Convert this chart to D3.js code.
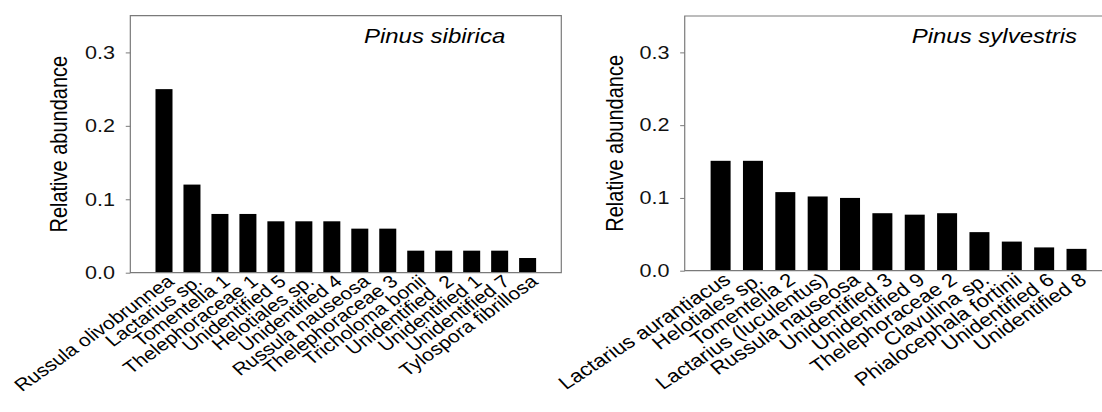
<!DOCTYPE html>
<html><head><meta charset="utf-8">
<script src="https://cdn.jsdelivr.net/npm/d3@7"></script>
<style>
body{margin:0;background:#fff;}
text{font-family:"Liberation Sans",Arial,sans-serif;}
</style>
</head><body>
<svg id="c" width="1102" height="412"></svg>
<script>
const sibiricaCategories = ["Russula olivobrunnea","Lactarius sp.","Tomentella 1","Thelephoraceae 1","Unidentified 5","Helotiales sp.","Unidentified 4","Russula nauseosa","Thelephoraceae 3","Tricholoma bonii","Unidentified  2","Unidentified 1","Unidentified 7","Tylospora fibrillosa"];
const sibiricaValues = [0.25,0.12,0.08,0.08,0.07,0.07,0.07,0.06,0.06,0.03,0.03,0.03,0.03,0.02];
const sylvestrisCategories = ["Lactarius aurantiacus","Helotiales sp.","Tomentella 2","Lactarius (luculentus)","Russula nauseosa","Unidentified 3","Unidentified 9","Thelephoraceae 2","Clavulina sp.","Phialocephala fortinii","Unidentified 6","Unidentified 8"];
const sylvestrisValues = [0.151,0.151,0.108,0.102,0.100,0.079,0.077,0.079,0.053,0.040,0.032,0.030];
const yTickValues = [0.0,0.1,0.2,0.3];
const panelTitles = ["Pinus sibirica","Pinus sylvestris"];
const yAxisLabel = "Relative abundance";

const SX = 1.2;
const svg = d3.select("#c");
const root = svg.append("g").attr("transform", `scale(${SX},1)`);
const GRAY = "#7a7a7a";

function panel(cfg){
  const g = root.append("g");
  const x = d3.scaleBand().domain(cfg.cats).range([cfg.x0, cfg.x1]).paddingInner(cfg.pi).paddingOuter(cfg.po);
  const y = d3.scaleLinear().domain([0,0.35]).range([cfg.y1, cfg.y0]);
  const data = cfg.cats.map((c,i)=>({c, v: cfg.vals[i]}));
  g.selectAll("rect.bar").data(data).join("rect").attr("class","bar")
    .attr("x", d=>x(d.c)).attr("width", x.bandwidth())
    .attr("y", d=>y(d.v)).attr("height", d=>y(0)-y(d.v)).attr("fill","#000");
  g.append("rect").attr("x",cfg.x0).attr("y",cfg.y0).attr("width",cfg.x1-cfg.x0).attr("height",cfg.y1-cfg.y0)
    .attr("fill","none").attr("stroke",GRAY).attr("stroke-width",1.2).attr("vector-effect","non-scaling-stroke");
  const ax = d3.axisLeft(y).tickValues(yTickValues).tickFormat(d3.format(".1f")).tickSize(3.8).tickPadding(8.9);
  const ag = g.append("g").attr("transform",`translate(${cfg.x0},0)`).call(ax);
  ag.attr("font-size",null).attr("font-family",null);
  ag.select(".domain").remove();
  ag.selectAll(".tick line").attr("stroke",GRAY).attr("vector-effect","non-scaling-stroke");
  ag.selectAll(".tick text").attr("font-size",18).attr("fill","#111");
  g.selectAll("text.cat").data(cfg.cats).join("text").attr("class","cat")
    .attr("transform", d=>`translate(${x(d)+x.bandwidth()/2+1.5},${cfg.y1+1}) rotate(${-cfg.angle})`)
    .attr("text-anchor","end").attr("dy","0.71em").attr("font-size",cfg.catSize).attr("fill","#000")
    .attr("xml:space","preserve").style("white-space","pre")
    .text(d=>d);
  g.append("text").attr("transform",`translate(${cfg.ylabX},${(cfg.y0+cfg.y1)/2}) rotate(-90)`)
    .attr("text-anchor","middle").attr("font-size",20).attr("fill","#000").text(yAxisLabel);
  g.append("text").attr("x",cfg.titleX).attr("y",cfg.titleY).attr("font-size",20)
    .attr("font-style","italic").attr("fill","#000").text(cfg.title);
}

panel({cats:sibiricaCategories, vals:sibiricaValues, x0:108.6, x1:467.75, y0:15.7, y1:272.7, pi:0.392, po:0.90,
  ylabX:56.1, titleX:303.3, titleY:43, title:panelTitles[0], angle:40.5, catSize:17.5});
panel({cats:sylvestrisCategories, vals:sylvestrisValues, x0:570.6, x1:927, y0:16, y1:270.7, pi:0.382, po:0.80,
  ylabX:518.9, titleX:759.75, titleY:43.3, title:panelTitles[1], angle:38, catSize:18.5});
</script>
</body></html>
